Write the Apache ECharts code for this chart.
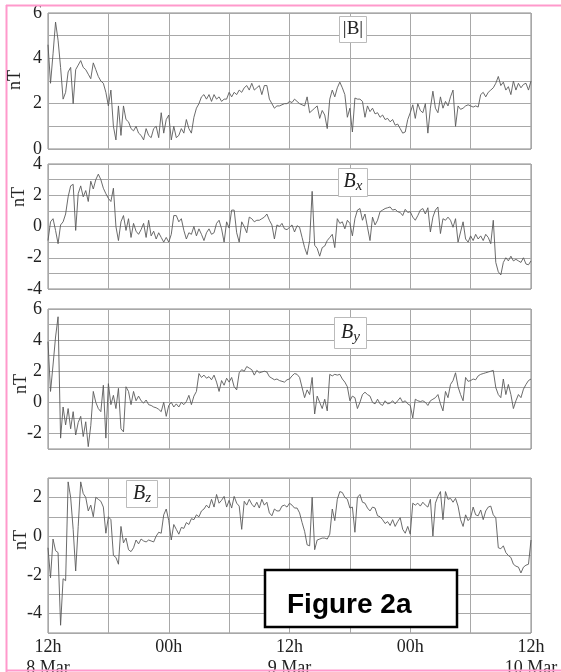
<!DOCTYPE html>
<html>
<head>
<meta charset="utf-8">
<script src="https://cdn.jsdelivr.net/npm/echarts@6/dist/echarts.min.js"></script>
<style>
  html, body { margin: 0; padding: 0; background: #fff; }
  #chart { width: 561px; height: 672px; }
</style>
</head>
<body>
<div id="chart"></div>
<script>
// hours after 12h 8 Mar, one sample every STEP hours
var STEP = 0.25;

// |B| (nT)
var bMag = [
  4.6, 2.9, 4.2, 5.6, 4.8, 3.6, 2.2, 2.5,
  3.4, 3.6, 2.0, 3.5, 3.7, 3.9, 3.6, 3.5,
  3.3, 3.1, 3.8, 3.5, 3.2, 3.0, 2.9, 2.5,
  1.9, 2.6, 1.0, 0.4, 1.9, 0.6, 1.9, 1.3,
  1.2, 0.9, 0.8, 1.0, 0.7, 0.6, 0.4, 0.9,
  0.6, 0.5, 0.9, 1.0, 0.5, 1.6, 0.7, 1.3,
  1.5, 0.4, 1.0, 0.5, 0.6, 0.9, 0.7, 1.3,
  0.9, 0.7, 1.4, 1.8, 2.0, 2.3, 2.4, 2.2,
  2.4, 2.1, 2.4, 2.2, 2.3, 2.1, 2.2, 2.2,
  2.5, 2.3, 2.5, 2.4, 2.6, 2.5, 2.7, 2.8,
  2.6, 2.9, 2.6, 2.7, 2.8, 2.4, 2.8, 2.8,
  2.2, 2.0, 1.8, 1.9, 1.9, 1.95, 2.0, 2.0,
  2.1, 2.05, 2.2, 2.1, 2.0, 1.95, 1.9, 2.3,
  1.6, 1.7, 1.8, 1.9, 1.35, 1.7, 1.5, 0.9,
  2.2, 2.6, 2.3, 2.7, 2.95, 2.7, 2.4, 1.4,
  1.8, 0.75, 2.25, 2.2, 2.2, 2.1, 1.4, 1.9,
  1.65, 1.8, 1.55, 1.6, 1.4, 1.5, 1.3, 1.35,
  1.2, 1.3, 1.05, 1.1, 0.9, 0.7, 0.75, 1.3,
  1.6, 1.95, 1.35, 2.0, 1.7, 1.6, 2.0, 0.7,
  1.8, 2.55, 1.8, 1.6, 2.3, 1.8, 2.1, 1.9,
  2.3, 2.6, 1.0, 1.9, 1.75, 1.8, 1.9, 1.95,
  1.9, 1.85, 1.9, 1.85, 2.4, 2.5, 2.3, 2.5,
  2.6, 2.7, 2.9, 3.2, 2.8, 2.95, 2.6, 2.75,
  2.4, 3.0, 2.6, 2.9, 2.7, 2.85, 2.9, 2.6,
  3.0
];

// Bx (nT)
var bx = [
  -0.9, 0.3, 0.5, -0.25, -1.1, 0.1, 0.3, 0.8,
  1.9, 2.6, 2.7, -0.25, 2.1, 2.6, 1.9, 2.3,
  1.6, 2.9, 2.4, 3.0, 3.35, 3.0, 2.45, 2.1,
  1.8, 1.6, 2.45, 0.0, -0.9, 0.3, 0.7, -0.25,
  0.5, -0.7, 0.2, -0.3, -0.5, -0.2, 0.2, -0.7,
  0.4, -0.6, -0.3, -0.8, -0.4, -0.7, -1.0, -0.7,
  -1.0, -0.5, 0.7, 0.7, 0.3, 0.5, -0.25, -0.8,
  -0.4, -0.5, 0.0, -0.6, -0.15, -0.5, -0.9, -0.4,
  -0.15, -0.5, -0.4, 0.2, 0.4, -0.15, -1.0, 0.3,
  -0.1, 1.05, 1.05, -0.4, -1.0, 0.3, 0.0, -0.4,
  0.6, 0.5, 0.3, 0.4, 0.4, 0.5, 0.6, 0.8,
  0.4, 0.1, -0.8, 0.1, 0.0, 0.2, -0.15, -0.2,
  -0.05, 0.1, -0.35, 0.05, -0.05, -0.7, -1.35, -1.8,
  -0.9, 2.25, -1.2, -1.4, -1.9, -1.35, -1.25, -0.9,
  -0.7, -0.5, -1.35, 0.5, 0.2, 0.3, -0.15, 0.4,
  0.2, -0.6, 0.5, 1.05, 1.15, 0.4, 0.8, -0.05,
  -0.9, 0.6, 0.1, 0.4, 0.95, 1.05, 1.15, 1.2,
  1.25, 1.05, 1.1, 0.95, 0.9, 0.7, 1.1, 0.9,
  0.95, 0.6, 0.4, 0.7, 1.05, 1.15, 0.8, 1.2,
  -0.35, 0.6, 1.05, 1.25, -0.45, 0.5, 0.4, 0.6,
  0.4, -0.05, 0.5, -1.0, -0.35, 0.3, -0.8, -1.0,
  -0.6, -0.9, -0.5, -0.8, -0.6, -0.9, -0.5, -0.7,
  -1.1, 0.4, -2.3, -2.9, -3.1, -2.3, -2.0, -2.2,
  -1.9, -2.2, -2.1, -2.2, -2.3, -2.0, -2.4, -2.45,
  -2.2
];

// By (nT)
var by = [
  3.9, 0.7, 2.4, 4.2, 5.5, -2.3, -0.3, -1.45,
  -0.4, -1.7, -0.6, -2.1, -1.3, -0.9, -2.2, -1.25,
  -2.85, -1.5, 0.7, 0.0, -0.4, -0.6, 1.1, -2.3,
  1.2, -0.15, 0.45, -0.4, 0.9, -1.7, -1.9, 1.0,
  0.7, -0.15, 0.7, 0.1, 0.4, 0.1, -0.05, 0.15,
  -0.15, -0.2, -0.3, -0.35, -0.45, -0.6, 0.0, -0.9,
  -0.2, 0.0, -0.3, -0.1, -0.3, 0.0, -0.15, 0.05,
  0.45, -0.15, 0.4, 0.7, 1.85, 1.6, 1.75, 1.55,
  1.65, 1.45, 1.75, 1.3, 0.7, 1.4, 1.1, 1.55,
  1.3, 1.6, 1.0, 0.8, 1.9, 2.1, 2.0, 2.3,
  2.2, 2.1, 1.75, 2.05, 1.9, 1.95, 2.0, 1.95,
  1.65, 1.55, 1.45, 1.5, 1.4, 1.35, 1.3, 1.45,
  1.5, 1.7, 1.85, 1.8, 1.6, 0.95, 0.3, 0.8,
  0.5, 1.6, -0.75, 0.4, 0.0, -0.4, 0.2, -0.55,
  1.8, 1.7, 1.8, 1.75, 1.8, 1.5, 1.3, 1.0,
  0.1, 0.4, 0.3, -0.4, 0.0, 0.5, 0.65, 0.5,
  0.4, 0.0, -0.1, 0.2, -0.1, -0.2, 0.1, -0.1,
  -0.05, 0.1, -0.1, 0.1, 0.3, 0.0, 0.1, -0.1,
  -0.2, -1.0, 0.2, 0.1, 0.05, 0.1, 0.0, -0.2,
  0.1, 0.2, 0.3, 0.5, -0.1, -0.55, 0.7, 0.3,
  1.15, 1.4, 1.9, 1.0, 0.5, 0.1, 1.6, 1.35,
  1.4, 1.5, 1.45, 1.7, 1.8, 1.85, 1.9, 1.95,
  2.0, 2.05, 0.95, 0.5, 0.3, 1.5, 0.5, 1.15,
  0.5, -0.4, 0.1, 0.5, 0.3, 0.85, 1.15, 1.4,
  1.5
];

// Bz (nT)
var bz = [
  -0.6, -2.15, -0.15, -0.75, -0.85, -4.6, -2.2, -2.3,
  2.8, 2.0, 0.35, -1.8, 0.5, 2.8, 2.2, 2.0,
  1.3, 1.6, 1.0, 2.0, 1.9, 1.8, 1.5, 0.15,
  1.0, 0.85, -1.0, -1.1, -1.45, 0.5, -0.35, -0.1,
  -0.7, -0.8, -0.6, -0.2, -0.4, -0.15, -0.25, -0.3,
  -0.2, -0.25, -0.3, 0.0, 0.2, 0.15, 1.1, 1.4,
  0.8, -0.2, 0.6, 0.35, 0.1, 0.45, 0.4, 0.7,
  0.6, 0.9, 0.85, 1.1, 1.0, 1.3, 1.4, 1.6,
  1.45, 1.9, 1.5, 2.15, 1.7, 1.85, 2.05, 1.5,
  1.85, 1.45, 2.05, 1.7, 1.55, 0.35, 1.8, 1.6,
  1.9, 1.65, 1.5, 1.75, 1.45, 1.9, 1.6, 1.75,
  1.2, 1.05, 1.4, 1.3, 1.3, 1.55, 1.6, 1.5,
  1.7, 1.6, 1.45, 1.45, 1.2, 0.7, 0.25, -0.45,
  -0.5, 2.0, -0.7, -0.2, -0.15, -0.1, -0.1, -0.15,
  0.1, 1.4, 0.8, 1.9, 2.3, 2.25, 2.0, 1.9,
  1.45, 1.5, 0.2, 2.0, 2.15, 1.75, 1.7, 1.45,
  1.3, 1.5, 1.45, 1.05, 1.0, 0.85, 0.65, 0.75,
  0.55, 0.85, 0.5, 0.75, 0.95, 0.35, 0.15, 0.5,
  0.1, 1.7, 1.6, 1.7, 1.55, 1.75, 1.6, 1.5,
  1.9, 0.0, 1.7, 2.05, 2.3, 0.85, 2.3, 1.9,
  1.95, 1.75, 1.95, 1.55, 0.85, 0.5, 1.1, 0.8,
  0.95, 1.5, 1.1, 1.05, 1.35, 0.85, 1.3, 1.5,
  1.55, 1.1, 0.95, -0.6, -0.65, -0.5, -0.85, -1.0,
  -1.1, -1.45, -1.55, -1.6, -1.9, -1.6, -1.5, -1.45,
  -0.2
];

// x tick labels, one per 6 h
var xTickLabels = ['12h', '', '00h', '', '12h', '', '00h', '', '12h'];
var dateLabels = ['8 Mar', '', '', '', '9 Mar', '', '', '', '10 Mar'];

var panelNames = ['|B|', '{i|B}{s|x}', '{i|B}{s|y}', '{i|B}{s|z}'];
var yRanges = [[0, 6], [-4, 4], [-3, 6], [-5, 3]];

var SERIF = 'Liberation Serif';
var grids = [
  { left: 48, right: 30, top: 13, height: 136 },
  { left: 48, right: 30, top: 164, height: 125 },
  { left: 48, right: 30, top: 309, height: 140 },
  { left: 48, right: 30, top: 478, height: 155 }
];

function toPairs(vals) {
  return vals.map(function (v, i) { return [i * STEP, v]; });
}

var option = {
  backgroundColor: '#fff',
  animation: false,
  grid: grids.map(function (g) {
    return Object.assign({
      show: true, borderColor: '#888', borderWidth: 1,
      containLabel: false, outerBoundsMode: 'none'
    }, g);
  }),
  xAxis: grids.map(function (g, i) {
    return {
      type: 'value', gridIndex: i, min: 0, max: 48, interval: 6,
      axisLine: { show: false }, axisTick: { show: false },
      splitLine: { lineStyle: { color: '#a8a8a8', width: 1 } },
      axisLabel: {
        show: i === 3, margin: 4,
        fontFamily: SERIF, fontSize: 18, color: '#222', lineHeight: 21,
        formatter: function (v) {
          var k = Math.round(v / 6);
          return xTickLabels[k] + (dateLabels[k] ? '\n' + dateLabels[k] : '');
        }
      }
    };
  }),
  yAxis: yRanges.map(function (r, i) {
    return {
      type: 'value', gridIndex: i, min: r[0], max: r[1], interval: 1,
      axisLine: { show: false }, axisTick: { show: false },
      splitLine: { lineStyle: { color: '#a8a8a8', width: 1 } },
      axisLabel: {
        margin: 6, fontFamily: SERIF, fontSize: 18, color: '#222',
        formatter: function (v) { return v % 2 === 0 ? String(v) : ''; }
      }
    };
  }),
  series: [bMag, bx, by, bz].map(function (vals, i) {
    return {
      type: 'line', xAxisIndex: i, yAxisIndex: i,
      data: toPairs(vals), showSymbol: false,
      lineStyle: { color: '#5a5a5a', width: 0.9 }
    };
  }),
  graphic: []
};

// pink page frame
var pink = '#ff99cc';
option.graphic.push(
  { type: 'line', z: 50, shape: { x1: 6, y1: 5.5, x2: 561, y2: 5.5 }, style: { stroke: pink, lineWidth: 2 } },
  { type: 'line', z: 50, shape: { x1: 6.5, y1: 5, x2: 6.5, y2: 672 }, style: { stroke: pink, lineWidth: 2 } },
  { type: 'line', z: 50, shape: { x1: 6, y1: 670.5, x2: 561, y2: 670.5 }, style: { stroke: pink, lineWidth: 2 } }
);

// rotated nT unit labels
[[15, 80], [19, 197], [21, 384], [21, 540]].forEach(function (p) {
  option.graphic.push({
    type: 'text', x: p[0], y: p[1], rotation: Math.PI / 2, z: 50,
    style: { text: 'nT', x: 0, y: 0, align: 'center', verticalAlign: 'middle',
      font: '18px "Liberation Serif"', fill: '#222' }
  });
});

// component name boxes
var boxes = [[339, 16, 27, 26], [338, 168, 29, 28], [334, 317, 32, 31], [126, 480, 31, 27]];
boxes.forEach(function (b, i) {
  option.graphic.push({
    type: 'rect', z: 60, shape: { x: b[0] + 0.5, y: b[1] + 0.5, width: b[2], height: b[3] },
    style: { fill: '#fff', stroke: '#bbb', lineWidth: 1 }
  });
  option.graphic.push({
    type: 'text', z: 61, x: b[0] + b[2] / 2 + 0.5, y: b[1] + b[3] / 2,
    style: {
      text: panelNames[i], align: 'center', verticalAlign: 'middle',
      fontFamily: SERIF, fontSize: 19, fill: '#222',
      rich: {
        i: { fontFamily: SERIF, fontStyle: 'italic', fontSize: 20, lineHeight: 24, verticalAlign: 'middle', fill: '#222' },
        s: { fontFamily: SERIF, fontStyle: 'italic', fontSize: 15, lineHeight: 24, verticalAlign: 'bottom', fill: '#222' }
      }
    }
  });
});

// figure tag
option.graphic.push(
  { type: 'rect', z: 70, shape: { x: 265, y: 570, width: 192, height: 57 },
    style: { fill: '#fff', stroke: '#000', lineWidth: 2.5 } },
  { type: 'text', z: 71, x: 287, y: 605,
    style: { text: 'Figure 2a', align: 'left', verticalAlign: 'middle',
      font: 'bold 28px "Liberation Sans"', fill: '#000' } }
);

var chart = echarts.init(document.getElementById('chart'), null, { renderer: 'canvas' });
chart.setOption(option);
</script>
</body>
</html>
